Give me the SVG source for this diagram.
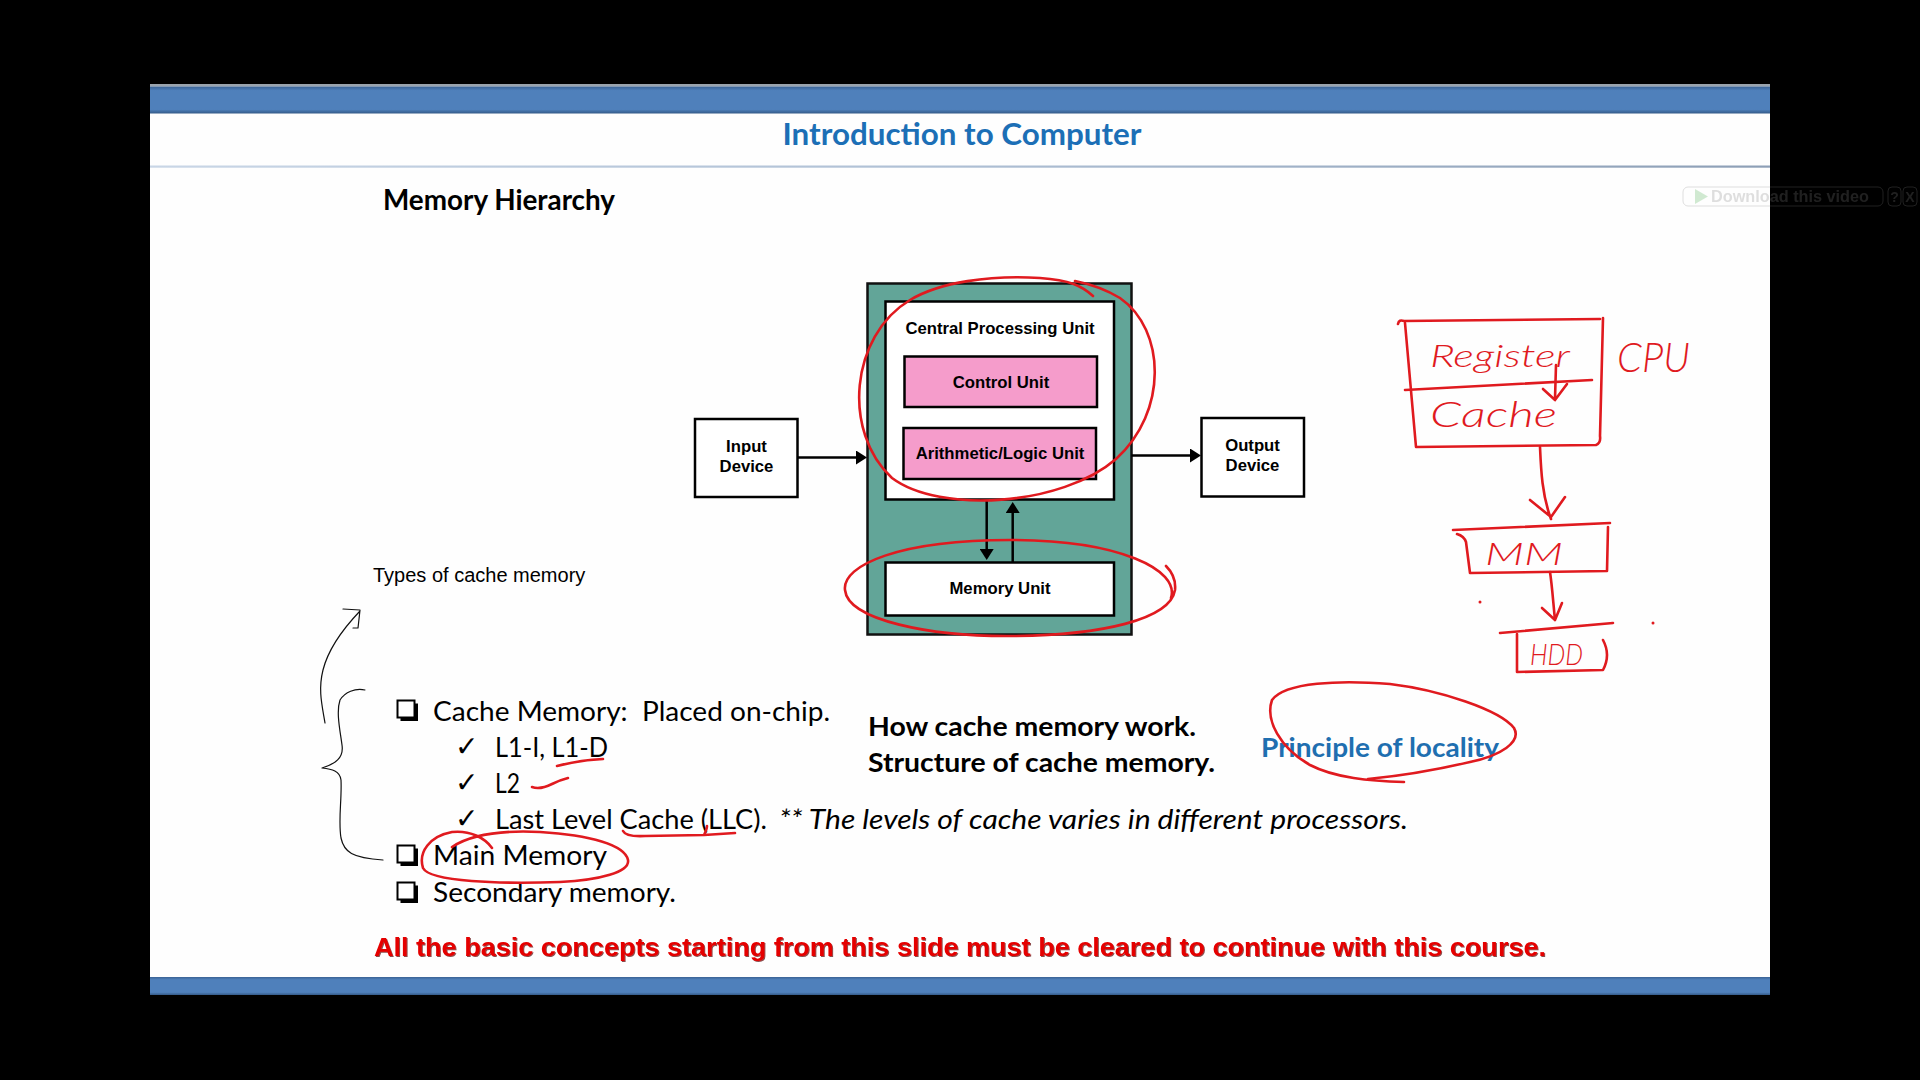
<svg xmlns="http://www.w3.org/2000/svg" width="1920" height="1080" viewBox="0 0 1920 1080">
  <defs>
    <linearGradient id="band" x1="0" y1="0" x2="0" y2="1">
      <stop offset="0" stop-color="#3a6294"/>
      <stop offset="0.15" stop-color="#4f80bb"/>
      <stop offset="0.85" stop-color="#4f80bb"/>
      <stop offset="1" stop-color="#345a88"/>
    </linearGradient>
    <linearGradient id="rule" x1="0" y1="0" x2="1" y2="0">
      <stop offset="0" stop-color="#c9d6e6"/>
      <stop offset="0.5" stop-color="#aebfd4"/>
      <stop offset="1" stop-color="#8d9fb6"/>
    </linearGradient>
    <marker id="head" markerUnits="userSpaceOnUse" markerWidth="11" markerHeight="14" viewBox="0 0 11 14" refX="0" refY="7" orient="auto">
      <path d="M0,0 L11,7 L0,14 z" fill="#000"/>
    </marker>
    <filter id="shade" x="-2%" y="-30%" width="104%" height="160%">
      <feDropShadow dx="1" dy="1" stdDeviation="0.6" flood-color="#5a0000" flood-opacity="0.7"/>
    </filter>
    <!-- shadowed square bullet -->
    <g id="bullet">
      <rect x="3.5" y="3.5" width="17.5" height="17.5" fill="#000"/>
      <rect x="0.5" y="0.5" width="17" height="17" fill="#fff" stroke="#000" stroke-width="2"/>
    </g>
    <style>
      .box { fill: #fff; stroke: #000; stroke-width: 2.5; }
      .unit { fill: #f59ccb; stroke: #000; stroke-width: 2.5; }
      .lbl { font-family: "Liberation Sans", Arial, sans-serif; font-weight: bold; font-size: 16.7px; fill: #000; text-anchor: middle; }
      .conn { stroke: #000; stroke-width: 2.5; fill: none; }
      .body { font-family: Lato, "Open Sans", sans-serif; font-size: 27px; fill: #000; }
      .tick { font-family: "DejaVu Sans", sans-serif; font-size: 28px; fill: #000; }
      .ink { stroke: #e01a1f; stroke-width: 2.6; fill: none; stroke-linecap: round; stroke-linejoin: round; }
      .inktext { font-family: Lato, "DejaVu Sans", sans-serif; font-weight: 300; font-style: italic; fill: #e01a1f; }
      .pencil { stroke: #111; stroke-width: 1.2; fill: none; stroke-linecap: round; stroke-linejoin: round; }
    </style>
  </defs>

  <!-- page background and slide frame -->
  <rect x="0" y="0" width="1920" height="1080" fill="#000"/>
  <rect x="150" y="84" width="1620" height="911" fill="#fefefe"/>
  <rect x="150" y="84" width="1620" height="2.5" fill="#9aa3ad"/>
  <rect x="150" y="86.5" width="1620" height="27" fill="url(#band)"/>
  <rect x="150" y="165.5" width="1620" height="2.2" fill="url(#rule)"/>
  <rect x="150" y="977" width="1620" height="18" fill="url(#band)"/>

  <!-- headings -->
  <text x="962" y="145" text-anchor="middle" font-family="Lato, 'Open Sans', sans-serif" font-weight="bold" font-size="30" fill="#1c6fb6" textLength="359" lengthAdjust="spacingAndGlyphs">Introduction to Computer</text>
  <text x="383" y="210" font-family="Lato, 'Open Sans', sans-serif" font-weight="bold" font-size="28" fill="#000" textLength="232" lengthAdjust="spacingAndGlyphs">Memory Hierarchy</text>

  <!-- computer block diagram -->
  <g id="computer">
    <rect x="867.5" y="283.5" width="264" height="351" fill="#62a598" stroke="#111" stroke-width="2.5"/>
  </g>
  <g id="cpu">
    <rect class="box" x="885.5" y="301.5" width="228.5" height="198"/>
    <text class="lbl" x="1000" y="334" font-size="17">Central Processing Unit</text>
  </g>
  <g id="control-unit">
    <rect class="unit" x="904.5" y="356.5" width="192.5" height="50.5"/>
    <text class="lbl" x="1001" y="387.5">Control Unit</text>
  </g>
  <g id="alu">
    <rect class="unit" x="903.5" y="428" width="192.5" height="51"/>
    <text class="lbl" x="1000" y="458.5">Arithmetic/Logic Unit</text>
  </g>
  <g id="memory-unit">
    <rect class="box" x="885.5" y="562.5" width="228.5" height="53"/>
    <text class="lbl" x="1000" y="594">Memory Unit</text>
  </g>
  <g id="input-device">
    <rect class="box" x="695" y="419" width="102.5" height="78"/>
    <text class="lbl" x="746.5" y="451.5">Input</text>
    <text class="lbl" x="746.5" y="472">Device</text>
  </g>
  <g id="output-device">
    <rect class="box" x="1201.5" y="418" width="102.5" height="78.5"/>
    <text class="lbl" x="1252.5" y="450.5">Output</text>
    <text class="lbl" x="1252.5" y="470.5">Device</text>
  </g>

  <g id="connectors">
    <line class="conn" x1="797.5" y1="457.5" x2="856" y2="457.5" marker-end="url(#head)"/>
    <line class="conn" x1="1131.5" y1="455.5" x2="1190" y2="455.5" marker-end="url(#head)"/>
    <line class="conn" x1="986.7" y1="499.5" x2="986.7" y2="549" marker-end="url(#head)"/>
    <line class="conn" x1="1012.7" y1="562.5" x2="1012.7" y2="513" marker-end="url(#head)"/>
  </g>

  <!-- slide text -->
  <text x="373" y="582" font-family="'Liberation Sans', Arial, sans-serif" font-size="20" fill="#000">Types of cache memory</text>

  <g id="memory-list">
    <use href="#bullet" x="397" y="700"/>
    <text class="body" x="433" y="721" xml:space="preserve" textLength="397" lengthAdjust="spacingAndGlyphs">Cache Memory:  Placed on-chip.</text>
    <text class="tick" x="455" y="756">✓</text>
    <text class="body" x="495" y="757" textLength="113" lengthAdjust="spacingAndGlyphs">L1-I, L1-D</text>
    <text class="tick" x="455" y="792">✓</text>
    <text class="body" x="495" y="793" textLength="25" lengthAdjust="spacingAndGlyphs">L2</text>
    <text class="tick" x="455" y="828">✓</text>
    <text class="body" x="495" y="829" textLength="272" lengthAdjust="spacingAndGlyphs">Last Level Cache (LLC).</text>
    <text class="body" x="779" y="829" font-style="italic" textLength="629" lengthAdjust="spacingAndGlyphs">** The levels of cache varies in different processors.</text>
    <use href="#bullet" x="397" y="845"/>
    <text class="body" x="433" y="865" textLength="174" lengthAdjust="spacingAndGlyphs">Main Memory</text>
    <use href="#bullet" x="397" y="882"/>
    <text class="body" x="433" y="902" textLength="243" lengthAdjust="spacingAndGlyphs">Secondary memory.</text>
  </g>

  <text x="868" y="736" font-family="Lato, 'Open Sans', sans-serif" font-weight="bold" font-size="27" fill="#000" textLength="328" lengthAdjust="spacingAndGlyphs">How cache memory work.</text>
  <text x="868" y="772" font-family="Lato, 'Open Sans', sans-serif" font-weight="bold" font-size="27" fill="#000" textLength="347" lengthAdjust="spacingAndGlyphs">Structure of cache memory.</text>
  <text x="1261" y="757" font-family="Lato, 'Open Sans', sans-serif" font-weight="bold" font-size="27" fill="#1f6fb0" textLength="238" lengthAdjust="spacingAndGlyphs">Principle of locality</text>

  <text x="374" y="956" font-family="'Liberation Sans', Arial, sans-serif" font-weight="bold" font-size="25" fill="#e50000" filter="url(#shade)" textLength="1172" lengthAdjust="spacingAndGlyphs">All the basic concepts starting from this slide must be cleared to continue with this course.</text>

  <!-- red pen markings over the slide -->
  <g id="pen-marks">
    <path class="ink" d="M1093 296 C1082 286, 1070 280, 1040 278 C990 275, 940 282, 910 300 C850 336, 842 432, 892 478 C940 514, 1062 506, 1116 459 C1168 412, 1166 330, 1120 298 C1105 289, 1090 284, 1075 281"/>
    <path class="ink" d="M1171 598 C1180 570, 1120 540, 1010 540 C900 540, 842 565, 845 590 C848 620, 930 637, 1015 636 C1100 635, 1170 620, 1175 590 C1176 580, 1172 572, 1166 566"/>
    <path class="ink" d="M1404 782 C1370 781, 1335 778, 1310 765 C1280 748, 1265 720, 1272 700 C1285 682, 1340 680, 1390 684 C1440 690, 1500 710, 1514 728 C1522 742, 1500 756, 1470 762 C1440 769, 1400 776, 1368 779"/>
    <path class="ink" d="M492 848 C485 838, 470 830, 452 832 C430 836, 418 852, 423 868 C430 882, 500 884, 560 882 C600 880, 630 872, 628 860 C625 845, 590 835, 540 832 C500 830, 470 835, 452 847"/>
    <path class="ink" d="M557 766 Q580 760, 603 759"/>
    <path class="ink" d="M532 787 Q540 790, 552 784 Q560 780, 568 778"/>
    <path class="ink" d="M623 831 Q626 837, 645 836 L704 835 Q707 829, 707 826 M704 835 L735 833"/>
  </g>

  <!-- red pen sketch: register / cache / main memory / disk -->
  <g id="sketch-cpu">
    <path class="ink" d="M1398 324 Q1399 319, 1404 321 L1600 319 M1405 323 L1416 447 L1596 445 Q1601 443, 1600 436 L1603 318"/>
    <path class="ink" d="M1405 390 L1592 380"/>
    <path class="ink" d="M1556 365 L1555 399 M1543 389 L1555 400 L1567 384"/>
    <text class="inktext" x="1430" y="367" font-size="31" textLength="140" lengthAdjust="spacingAndGlyphs">Register</text>
    <text class="inktext" x="1430" y="427" font-size="36" textLength="127" lengthAdjust="spacingAndGlyphs">Cache</text>
    <text class="inktext" x="1617" y="372" font-size="42" textLength="73" lengthAdjust="spacingAndGlyphs">CPU</text>
  </g>
  <g id="sketch-mm">
    <path class="ink" d="M1453 530 L1610 523 M1457 534 Q1464 536, 1466 542 L1470 573 L1607 571 L1608 527"/>
    <text class="inktext" x="1485" y="565" font-size="32" textLength="78" lengthAdjust="spacingAndGlyphs">MM</text>
  </g>
  <g id="sketch-hdd">
    <path class="ink" d="M1500 633 L1613 623 M1517 634 L1517 672 L1603 670 Q1611 655, 1603 640"/>
    <text class="inktext" x="1530" y="665" font-size="30" textLength="53" lengthAdjust="spacingAndGlyphs">HDD</text>
  </g>
  <g id="sketch-links">
    <path class="ink" d="M1540 447 C1541 470, 1542 495, 1551 519 M1530 500 L1551 517 L1565 497"/>
    <path class="ink" d="M1550 572 C1552 585, 1553 600, 1555 620 M1542 608 L1555 620 L1562 603"/>
    <circle cx="1480" cy="602" r="1.5" fill="#e01a1f"/>
    <circle cx="1653" cy="623" r="1.5" fill="#e01a1f"/>
  </g>

  <!-- pencil brace and arrow beside the list -->
  <g id="pencil-marks">
    <path class="pencil" d="M325 723 C322 705, 318 690, 323 670 C328 650, 340 632, 360 611 M343 609 L360 610 L358 628 L353 628"/>
    <path class="pencil" d="M365 690 C355 688, 345 692, 340 700 C336 712, 340 730, 342 745 C344 758, 335 764, 322 768 C332 769, 340 771, 341 780 C342 800, 338 820, 341 838 C344 852, 352 858, 383 860"/>
  </g>

  <!-- player overlay -->
  <g opacity="0.25">
    <rect x="1683" y="187" width="200" height="19" rx="5" fill="none" stroke="#808080" stroke-width="1"/>
    <path d="M1695 189 L1708 196.5 L1695 204 z" fill="#4caf50"/>
    <text x="1711" y="202" font-family="'Liberation Sans', Arial, sans-serif" font-weight="bold" font-size="16" fill="#808080" textLength="158" lengthAdjust="spacingAndGlyphs">Download this video</text>
    <rect x="1888" y="187" width="13" height="19" rx="4" fill="none" stroke="#808080"/>
    <text x="1894.5" y="202" text-anchor="middle" font-family="'Liberation Sans', Arial, sans-serif" font-weight="bold" font-size="14" fill="#808080">?</text>
    <rect x="1903" y="187" width="14" height="19" rx="4" fill="none" stroke="#808080"/>
    <text x="1910" y="202" text-anchor="middle" font-family="'Liberation Sans', Arial, sans-serif" font-weight="bold" font-size="14" fill="#808080">X</text>
  </g>
</svg>
